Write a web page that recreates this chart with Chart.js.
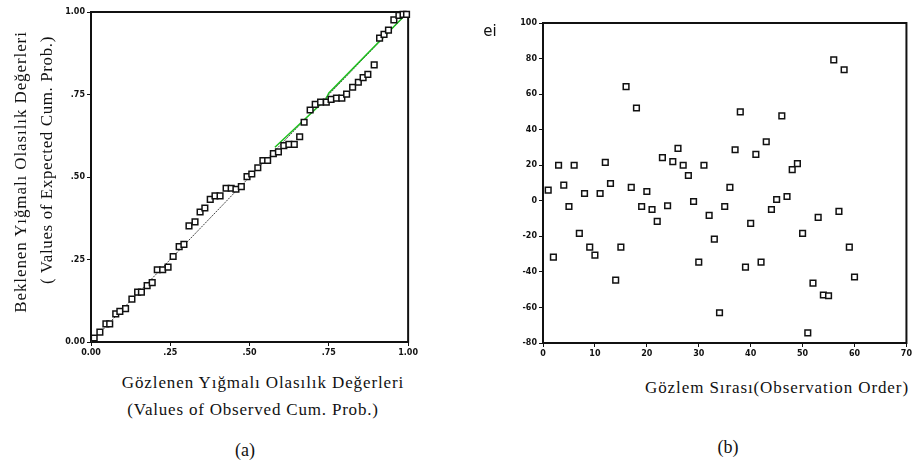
<!DOCTYPE html>
<html>
<head>
<meta charset="utf-8">
<script src="https://cdn.jsdelivr.net/npm/chart.js@4"></script>
<style>
body{margin:0;background:#fff;width:914px;height:465px;position:relative;overflow:hidden;font-family:"Liberation Serif",serif;color:#111}
.box{position:absolute}
.t{position:absolute;white-space:nowrap;font-size:17px;letter-spacing:0.9px;transform:translate(-50%,-50%)}
.v{transform:translate(-50%,-50%) rotate(-90deg)}
</style>
</head>
<body>
<div class="box" style="left:0;top:0;width:420px;height:360px"><canvas id="ppChart"></canvas></div>
<div class="box" style="left:460px;top:0;width:454px;height:360px"><canvas id="resChart"></canvas></div>

<div class="t v" style="left:21px;top:172px">Beklenen Yığmalı Olasılık Değerleri</div>
<div class="t v" style="left:47px;top:160px;letter-spacing:0.6px">( Values of Expected Cum. Prob.)</div>
<div class="t" style="left:263px;top:383px">Gözlenen Yığmalı Olasılık Değerleri</div>
<div class="t" style="left:253px;top:410px;letter-spacing:0.8px">(Values of Observed Cum. Prob.)</div>
<div class="t" style="left:245px;top:450px;font-size:18px;letter-spacing:0">(a)</div>

<div class="t" style="left:490px;top:31px;font-family:'DejaVu Sans';font-size:15px;letter-spacing:0">ei</div>
<div class="t" style="left:777px;top:388px">Gözlem Sırası(Observation Order)</div>
<div class="t" style="left:728px;top:447px;font-size:18px;letter-spacing:0">(b)</div>

<script>
// (a) P-P grafiği: gözlenen / beklenen yığmalı olasılıklar
const ppObserved = [0.010,0.028,0.047,0.059,0.078,0.091,0.109,0.129,0.147,0.159,0.177,0.193,0.209,0.226,0.243,0.259,0.278,0.293,0.309,0.328,0.344,0.359,0.376,0.391,0.407,0.426,0.442,0.457,0.474,0.492,0.507,0.526,0.542,0.557,0.575,0.591,0.608,0.624,0.641,0.658,0.672,0.691,0.707,0.724,0.742,0.757,0.774,0.791,0.806,0.825,0.843,0.858,0.873,0.893,0.910,0.924,0.938,0.955,0.971,0.984,0.995];
const ppExpected = [0.012,0.030,0.055,0.055,0.085,0.093,0.101,0.130,0.151,0.151,0.171,0.180,0.219,0.219,0.227,0.259,0.289,0.296,0.352,0.364,0.394,0.406,0.432,0.443,0.443,0.466,0.466,0.463,0.471,0.501,0.509,0.528,0.550,0.550,0.571,0.576,0.595,0.599,0.599,0.622,0.666,0.703,0.720,0.727,0.727,0.735,0.739,0.739,0.751,0.772,0.787,0.801,0.811,0.840,0.921,0.932,0.945,0.976,0.990,0.993,0.993];
const refLineX = [0, 1];
const refLineY = [0, 1];
const greenLineX = [0.58, 0.74, 0.75, 0.99];
const greenLineY = [0.59, 0.735, 0.755, 0.99];
const ppTicks = [0, 0.25, 0.5, 0.75, 1];
const ppTickLabels = ['0.00', '.25', '.50', '.75', '1.00'];

// (b) artıklar - gözlem sırası
const resValues = [6.0,-31.7,20,8.8,-3.2,20,-18.3,4.1,-26.1,-30.6,4.1,21.6,9.7,-44.6,-26.1,64.2,7.5,52.2,-3.2,5.2,-4.9,-11.6,24.3,-2.8,22,29.5,20,14.2,-0.4,-34.5,20,-8.2,-21.6,-63,-3.2,7.5,28.7,50,-37.3,-12.7,26.1,-34.5,33.2,-4.9,0.7,47.8,2.4,17.5,20.9,-18.3,-74.3,-46.3,-9.3,-53,-53.4,79.3,-6,73.7,-26.1,-42.9];
const obsOrder = resValues.map((v, i) => i + 1);
const resXTicks = [0, 10, 20, 30, 40, 50, 60, 70];
const resYTicks = [-80, -60, -40, -20, 0, 20, 40, 60, 80, 100];

const ink = '#111';
const tickFont = { family: 'DejaVu Sans', size: 8, weight: 'bold' };

// çizim alanının etrafına çerçeve
const frame = {
  id: 'frame',
  beforeDatasetsDraw(chart) {
    const a = chart.chartArea, c = chart.ctx;
    c.save();
    c.strokeStyle = ink;
    c.lineWidth = 2;
    c.strokeRect(a.left, a.top, a.right - a.left, a.bottom - a.top);
    c.restore();
  }
};

function pairs(xs, ys) { return xs.map((x, i) => ({ x: x, y: ys[i] })); }

function axis(min, max, ticks, labels, fixed, isY) {
  return {
    type: 'linear', min: min, max: max,
    afterBuildTicks: s => { s.ticks = ticks.map(v => ({ value: v })); },
    afterFit: s => { if (isY) s.width = fixed; else s.height = fixed; },
    grid: { display: true, drawOnChartArea: false, drawTicks: true, tickLength: 4, color: ink, lineWidth: 1 },
    border: { display: false },
    ticks: {
      color: ink, font: tickFont, padding: 2, maxRotation: 0, autoSkip: false,
      callback: (v) => { const k = ticks.indexOf(v); return labels ? labels[k] : String(v); }
    }
  };
}

const squarePts = {
  showLine: false, pointStyle: 'rect', pointRadius: 4, pointHoverRadius: 4,
  pointBackgroundColor: '#fff', pointBorderColor: ink, pointBorderWidth: 1.5, clip: false
};

new Chart(document.getElementById('ppChart').getContext('2d'), {
  type: 'scatter',
  data: {
    datasets: [
      Object.assign({ data: pairs(ppObserved, ppExpected), order: 0 }, squarePts),
      { data: pairs(refLineX, refLineY), showLine: true, borderColor: '#444', borderWidth: 1, borderDash: [2, 1], pointRadius: 0, order: 2 },
      { data: pairs(greenLineX, greenLineY), showLine: true, borderColor: '#1fbf1f', borderWidth: 1.5, pointRadius: 0, order: 1 }
    ]
  },
  options: {
    responsive: true, maintainAspectRatio: false, animation: false,
    layout: { padding: { top: 12, right: 9, left: 0, bottom: 0 } },
    plugins: { legend: { display: false }, tooltip: { enabled: false } },
    scales: {
      x: axis(0, 1, ppTicks, ppTickLabels, 18, false),
      y: axis(0, 1, ppTicks, ppTickLabels, 91, true)
    }
  },
  plugins: [frame]
});

new Chart(document.getElementById('resChart').getContext('2d'), {
  type: 'scatter',
  data: {
    datasets: [Object.assign({ data: pairs(obsOrder, resValues) }, squarePts)]
  },
  options: {
    responsive: true, maintainAspectRatio: false, animation: false,
    layout: { padding: { top: 23, right: 3, left: 0, bottom: 0 } },
    plugins: { legend: { display: false }, tooltip: { enabled: false } },
    scales: {
      x: axis(0, 70, resXTicks, null, 17, false),
      y: axis(-80, 100, resYTicks, null, 83, true)
    }
  },
  plugins: [frame]
});
</script>
</body>
</html>
